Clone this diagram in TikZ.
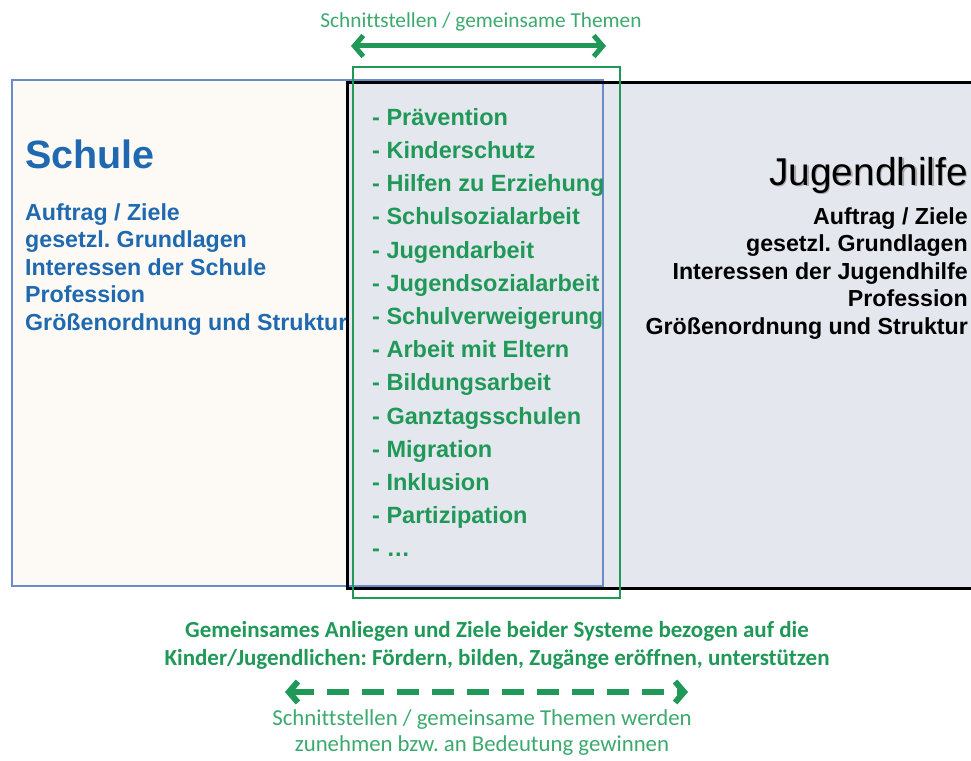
\documentclass[tikz,border=0pt]{standalone}
\usepackage{fontspec}
\setmainfont{Liberation Sans}
\newfontfamily\calibri[Ligatures=NoCommon]{Carlito}
\usetikzlibrary{arrows.meta}
\definecolor{schulblau}{RGB}{30,105,175}
\definecolor{randblau}{RGB}{105,140,200}
\definecolor{creme}{RGB}{253,250,246}
\definecolor{hellgrau}{RGB}{228,231,237}
\definecolor{themengruen}{RGB}{32,152,88}
\definecolor{hellgruen}{RGB}{60,170,110}
\frenchspacing
\begin{document}
\begin{tikzpicture}[x=1pt,y=-1pt]
	\tikzset{sidetext/.style = {inner sep=0pt, font=\bfseries\fontsize{23.2}{27.6}\selectfont}}
	\tikzset{listtext/.style = {inner sep=0pt, align=left, text=themengruen, font=\bfseries\fontsize{23.5}{33.2}\selectfont}}
	\tikzset{greennote/.style = {inner sep=0pt, align=center, text=hellgruen, font=\calibri\fontsize{22.8}{26}\selectfont}}
	\tikzset{bigarrow/.style = {themengruen, line width=5pt, {Straight Barb[length=9pt,width=21pt]}-{Straight Barb[length=9pt,width=21pt]}}}
	\useasboundingbox[fill=white] (0,0) rectangle (971,760);
	% Schule
	\fill[creme] (12,80) rectangle (603,586);
	\node[inner sep=0pt, anchor=base west, text=schulblau, font=\bfseries\fontsize{39.5}{40}\selectfont] (schule) at (25,168) {Schule};
	\node[sidetext, anchor=north west, align=left, text=schulblau] (schulpunkte) at (25,203)
		{Auftrag / Ziele\\gesetzl. Grundlagen\\Interessen der Schule\\Profession\\Größenordnung und Struktur};
	% Jugendhilfe
	\fill[hellgrau] (347,82) rectangle (990,588);
	\draw[randblau, line width=2pt] (12,80) rectangle (603,586);
	\draw[black, line width=3pt] (347,82) rectangle (990,588);
	\node[inner sep=0pt, anchor=base east, text=black!35, font=\fontsize{38.8}{40}\selectfont] (jhschatten) at (969.5,186.5) {Jugendhilfe};
	\node[inner sep=0pt, anchor=base east, font=\fontsize{38.8}{40}\selectfont] (jugendhilfe) at (968,185) {Jugendhilfe};
	\node[sidetext, anchor=north east, align=right] (jhpunkte) at (968,207)
		{Auftrag / Ziele\\gesetzl. Grundlagen\\Interessen der Jugendhilfe\\Profession\\Größenordnung und Struktur};
	% Schnittstellen
	\draw[themengruen, line width=2.5pt] (353,67) rectangle (620,598);
	\node[listtext, anchor=north west] (themen) at (372,108)
		{- Prävention\\- Kinderschutz\\- Hilfen zu Erziehung\\- Schulsozialarbeit\\- Jugendarbeit\\- Jugendsozialarbeit\\- Schulverweigerung\\- Arbeit mit Eltern\\- Bildungsarbeit\\- Ganztagsschulen\\- Migration\\- Inklusion\\- Partizipation\\- \dots};
	\node[greennote, font=\calibri\fontsize{21.3}{24}\selectfont] (oben) at (481,22) {Schnittstellen / gemeinsame Themen};
	\coordinate (obenlinks) at (351,46);
	\coordinate (obenrechts) at (606,46);
	\draw[bigarrow] (obenlinks) -- (obenrechts);
	% unten
	\node[greennote, text=themengruen, font=\calibri\bfseries\fontsize{23}{28}\selectfont] (anliegen) at (497,645)
		{Gemeinsames Anliegen und Ziele beider Systeme bezogen auf die\\Kinder/Jugendlichen: Fördern, bilden, Zugänge eröffnen, unterstützen};
	\coordinate (untenlinks) at (285,692);
	\coordinate (untenrechts) at (688,692);
	\draw[bigarrow, line width=6pt, dash pattern=on 22pt off 13pt] (untenlinks) -- (untenrechts);
	\node[greennote] (zukunft) at (482,733)
		{Schnittstellen / gemeinsame Themen werden\\zunehmen bzw. an Bedeutung gewinnen};
\end{tikzpicture}
\end{document}
